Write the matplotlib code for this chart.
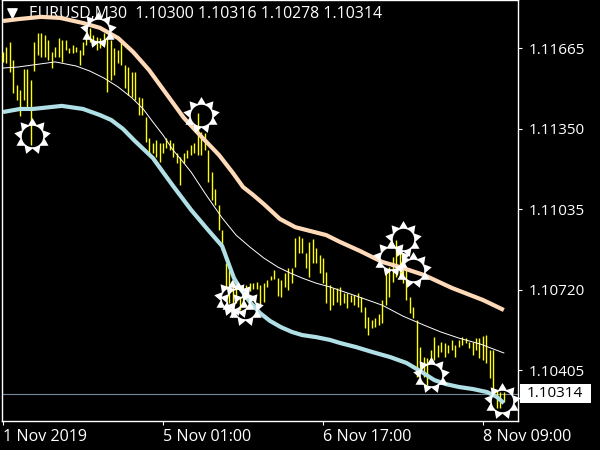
import numpy as np
import matplotlib
matplotlib.use("Agg")
import matplotlib.pyplot as plt
from matplotlib.patches import Rectangle
from matplotlib.path import Path

# prices are kept as points above 1.10000
high_pts = [1651, 1671, 1690, 1618, 1521, 1501, 1582, 1582, 1540, 1690, 1723, 1723, 1716, 1697, 1651, 1671,
            1703, 1697, 1697, 1664, 1677, 1671, 1658, 1690, 1729, 1742, 1716, 1710, 1703, 1723, 1710, 1697,
            1664, 1658, 1690, 1599, 1592, 1573, 1573, 1475, 1469, 1397, 1312, 1293, 1306, 1293, 1293, 1312,
            1306, 1293, 1254, 1241, 1254, 1267, 1286, 1293, 1410, 1338, 1332, 1267, 1182,
            1116, 1051, 953, 823, 797, 758, 732, 693, 732, 738, 745, 748, 751, 738, 745, 758, 774, 797, 765,
            758, 784, 804, 804, 921, 930, 921, 862, 908, 917, 882, 856, 843, 791,
            739, 727, 726, 732, 706, 706, 700, 700, 706, 691, 654, 615, 602, 608, 625, 680, 784, 810, 850,
            915, 889, 837, 810, 693, 654, 602, 498, 459, 452, 485, 537, 504, 517, 511, 504, 524, 504, 524,
            537, 530, 517, 517, 530, 530, 539, 543, 485, 485, 328, 322, 322]
low_pts = [1612, 1605, 1573, 1488, 1462, 1401, 1462, 1436, 1286, 1575, 1638, 1631, 1631, 1618, 1586, 1631,
           1631, 1612, 1658, 1645, 1645, 1651, 1599, 1638, 1677, 1690, 1690, 1658, 1664, 1677, 1495, 1540,
           1560, 1605, 1599, 1508, 1482, 1475, 1462, 1403, 1403, 1299, 1247, 1254, 1241, 1221, 1254, 1273,
           1267, 1241, 1215, 1130, 1215, 1234, 1247, 1254, 1247, 1247, 1267, 1143, 1071,
           1051, 953, 875, 732, 667, 654, 667, 641, 654, 686, 716, 722, 725, 660, 673, 732, 758, 761, 695,
           693, 732, 719, 745, 810, 862, 862, 804, 771, 823, 823, 784, 745, 667,
           641, 660, 674, 661, 667, 648, 674, 661, 654, 635, 569, 543, 569, 576, 582, 589, 661, 693, 752,
           771, 771, 745, 680, 628, 609, 380, 393, 380, 348, 446, 446, 459, 478, 459, 472, 485, 459, 498,
           504, 511, 491, 465, 485, 452, 446, 433, 374, 328, 257, 257, 283]

upper_bar = [0, 4.9, 10.9, 16.4, 23, 27.9, 33.1, 37.4, 42, 46.6, 52, 56.6, 62.1, 66.1, 69, 71.9, 75, 79.6, 84, 88.3,
             92.9, 96.9, 102.6, 109, 114.1, 121, 129.1, 138, 144]
upper_pts = [1771, 1779, 1787, 1783, 1763, 1744, 1704, 1650, 1579, 1493, 1392, 1325, 1247, 1177, 1122, 1091, 1055,
             997, 965, 950, 934, 907, 872, 829, 809, 778, 727, 680, 641]
mid_bar = [0, 4.3, 8.6, 15, 21, 25, 29, 33.1, 37.1, 40.3, 43.1, 46, 48.9, 51.5, 54.1, 58.4, 63, 67, 71, 75, 79, 82.5,
           86, 90, 94, 101.5, 109, 115, 121, 125.9, 131.1, 137.2, 144]
mid_pts = [1587, 1591, 1599, 1611, 1595, 1575, 1548, 1513, 1470, 1427, 1376, 1325, 1266, 1224, 1180, 1091, 1001, 934,
           887, 844, 809, 786, 766, 746, 731, 696, 660, 617, 582, 555, 531, 508, 473]
lower_bar = [0, 4.9, 8.6, 16.9, 23, 27.9, 31.1, 34.5, 37.9, 43.1, 46, 48.9, 54.1, 58.7, 63, 65, 66.4, 68.1, 71, 73.9,
             76.8, 79.9, 83.1, 86, 90, 94, 96.9, 101.5, 106.1, 111.3, 116, 120, 124, 127.4, 131.1, 135.1, 139.2,
             142, 144]
lower_pts = [1415, 1427, 1427, 1439, 1427, 1403, 1384, 1349, 1302, 1235, 1180, 1126, 1032, 958, 891, 817, 766, 727,
             672, 629, 598, 574, 555, 543, 535, 524, 512, 496, 477, 457, 434, 402, 367, 351, 340, 332, 320, 301, 277]

sun_bar = [8.3, 27.3, 56.9, 65.8, 67.6, 69.6, 115, 111.6, 117.9, 123, 143.5]
sun_pts = [1321, 1736, 1403, 688, 680, 649, 918, 844, 797, 387, 285]

price_ticks = [1.11665, 1.11350, 1.11035, 1.10720, 1.10405]
time_ticks = [0, 46, 92, 138]
time_labels = ["1 Nov 2019", "5 Nov 01:00", "6 Nov 17:00", "8 Nov 09:00"]
last_price = 1.10314
header = "EURUSD,M30  1.10300 1.10316 1.10278 1.10314"


def to_price(pts):
    return 1.1 + np.array(pts) / 100000


# sun glyph: spiked ring, the inside stays see-through
n = 18
ang = np.linspace(0, 2 * np.pi, n, endpoint=False) + np.pi / 2
rad = np.where(np.arange(n) % 2 == 0, 1.0, 0.66)
star = np.column_stack([rad * np.cos(ang), rad * np.sin(ang)])
circ_ang = np.linspace(0, -2 * np.pi, 40)
circ = 0.58 * np.column_stack([np.cos(circ_ang), np.sin(circ_ang)])
verts = np.vstack([star, star[:1], circ])
codes = [Path.MOVETO] + [Path.LINETO] * (n - 1) + [Path.CLOSEPOLY] + [Path.MOVETO] + [Path.LINETO] * 39
sun = Path(verts, codes)

plt.rcParams["font.family"] = "Open Sans"

fig = plt.figure(figsize=(6, 4.5), dpi=100, facecolor="black")
ax = fig.add_axes([2 / 600, 29 / 450, 516 / 600, 421 / 450], facecolor="black")

ax.text(27 / 516, 1 - 14 / 421, header, transform=ax.transAxes, color="white", fontsize=11.4,
        va="center", ha="left", zorder=1)
ax.scatter([10 / 516], [1 - 13 / 421], marker="v", s=45, color="white", transform=ax.transAxes, zorder=1)

ax.axhline(last_price, color="#778899", lw=0.8, zorder=2)
ax.vlines(np.arange(len(high_pts)), to_price(low_pts), to_price(high_pts), color="#ffff00", lw=1.0, zorder=3)
ax.plot(mid_bar, to_price(mid_pts), color="white", lw=0.7, zorder=4)
ax.plot(upper_bar, to_price(upper_pts), color="#ffdab9", lw=3, zorder=5, solid_capstyle="butt")
ax.plot(lower_bar, to_price(lower_pts), color="#b0e0e6", lw=3, zorder=5, solid_capstyle="butt")
ax.scatter(sun_bar, to_price(sun_pts), marker=sun, s=710, color="white", linewidths=0, zorder=6, clip_on=False)

ax.set_xlim(-0.29, 148.07)
ax.set_ylim(1.10207, 1.11853)
ax.set_yticks(price_ticks)
ax.set_yticklabels([f"{p:.5f}" for p in price_ticks])
ax.yaxis.tick_right()
ax.set_xticks(time_ticks)
ax.set_xticklabels(time_labels, ha="left", fontsize=11.6)
ax.tick_params(colors="white", length=3, width=0.8, pad=3)
ax.tick_params(axis="y", labelsize=11, pad=4.5)
for s in ax.spines.values():
    s.set_color("white")
    s.set_linewidth(1)

# white price tag for the last price
ax.add_patch(Rectangle((1.004, last_price - 0.00037), 0.137, 0.00074, transform=ax.get_yaxis_transform(),
                       fc="white", ec="none", clip_on=False, zorder=7))
ax.annotate(f"{last_price:.5f}", (1, last_price), xycoords=("axes fraction", "data"), xytext=(9, 0),
            textcoords="offset pixels", color="black", fontsize=11, va="center", ha="left",
            annotation_clip=False, zorder=8)

fig.savefig("out.png", dpi=100, facecolor="black")
